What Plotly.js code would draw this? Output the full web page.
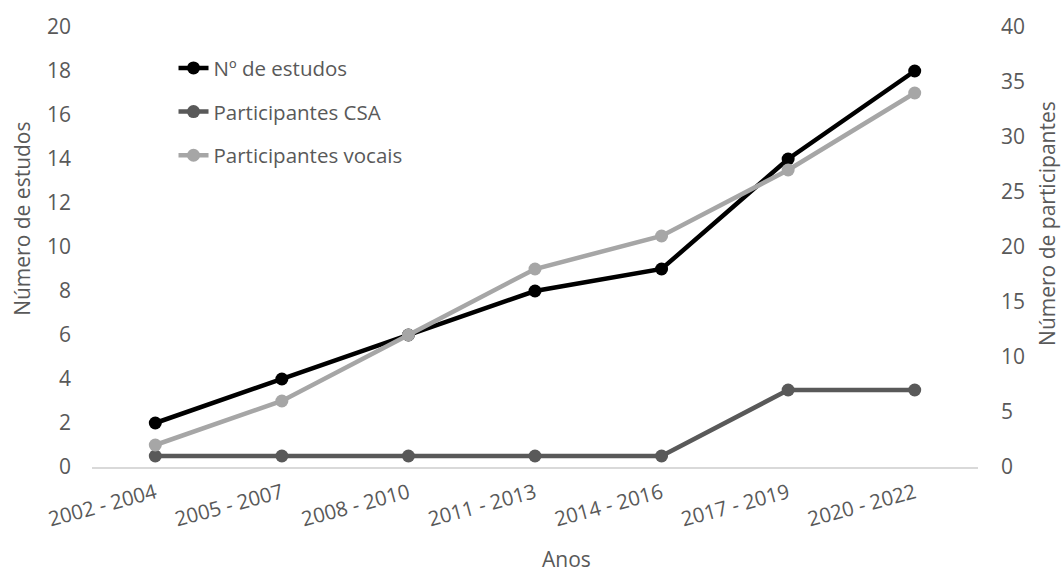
<!DOCTYPE html>
<html>
<head>
<meta charset="utf-8">
<script src="https://cdn.plot.ly/plotly-3.0.1.min.js"></script>
<style>html,body{margin:0;padding:0;background:#fff;}#chart{width:1064px;height:575px;}</style>
</head>
<body>
<div id="chart"></div>
<script>
const periods = ["2002 - 2004","2005 - 2007","2008 - 2010","2011 - 2013","2014 - 2016","2017 - 2019","2020 - 2022"];
const numEstudos = [2,4,6,8,9,14,18];
const participantesCSA = [1,1,1,1,1,7,7];
const participantesVocais = [2,6,12,18,21,27,34];
const leftTicks = [0,2,4,6,8,10,12,14,16,18,20];
const rightTicks = [0,5,10,15,20,25,30,35,40];

const FONT = "Open Sans, Liberation Sans, sans-serif";
const TXT = "#595959";

const traces = [
  {x: periods, y: numEstudos, name: "Nº de estudos", type: "scatter", mode: "lines+markers",
   yaxis: "y", legendgroup: "a",
   line: {color: "#000000", width: 4.5}, marker: {color: "#000000", size: 13}},
  {x: periods, y: participantesCSA, name: "Participantes CSA", type: "scatter", mode: "lines+markers",
   yaxis: "y2", legendgroup: "b",
   line: {color: "#595959", width: 4.5}, marker: {color: "#595959", size: 13}},
  {x: periods, y: participantesVocais, name: "Participantes vocais", type: "scatter", mode: "lines+markers",
   yaxis: "y2", legendgroup: "c",
   line: {color: "#A6A6A6", width: 4.5}, marker: {color: "#A6A6A6", size: 13}}
];

const layout = {
  width: 1064, height: 575,
  margin: {l: 92, r: 86, t: 27, b: 108},
  paper_bgcolor: "#ffffff", plot_bgcolor: "#ffffff",
  font: {family: FONT, size: 21, color: TXT},
  showlegend: true,
  legend: {x: 0.092, y: 0.952, xanchor: "left", yanchor: "top",
           traceorder: "grouped", tracegroupgap: 14,
           font: {family: FONT, size: 20.5, color: TXT}, bgcolor: "rgba(0,0,0,0)"},
  xaxis: {type: "category", range: [-0.5, 6.5], showgrid: false, zeroline: false,
          showline: true, linecolor: "#D9D9D9", linewidth: 1.5, ticks: "",
          tickangle: -15, ticklabelstandoff: 5, tickfont: {family: FONT, size: 20.5, color: TXT}},
  yaxis: {range: [0, 20], tickvals: leftTicks, showgrid: false, zeroline: false, showline: false,
          ticks: "", ticklabelstandoff: 20, tickfont: {family: FONT, size: 21, color: TXT}},
  yaxis2: {range: [0, 40], tickvals: rightTicks, overlaying: "y", side: "right",
           showgrid: false, zeroline: false, showline: false, ticks: "", ticklabelstandoff: 22,
           tickfont: {family: FONT, size: 21, color: TXT}},
  annotations: [
    {text: "Anos", xref: "paper", yref: "paper", x: 0.535, y: -0.209, yanchor: "middle",
     showarrow: false, font: {family: FONT, size: 21, color: TXT}},
    {text: "Número de estudos", xref: "paper", yref: "paper", x: -0.079, y: 0.564, textangle: -90,
     xanchor: "center", yanchor: "middle", showarrow: false, font: {family: FONT, size: 21, color: TXT}},
    {text: "Número de participantes", xref: "paper", yref: "paper", x: 1.077, y: 0.553, textangle: -90,
     xanchor: "center", yanchor: "middle", showarrow: false, font: {family: FONT, size: 21, color: TXT}}
  ]
};

Plotly.newPlot("chart", traces, layout, {displayModeBar: false, staticPlot: true});
</script>
</body>
</html>
